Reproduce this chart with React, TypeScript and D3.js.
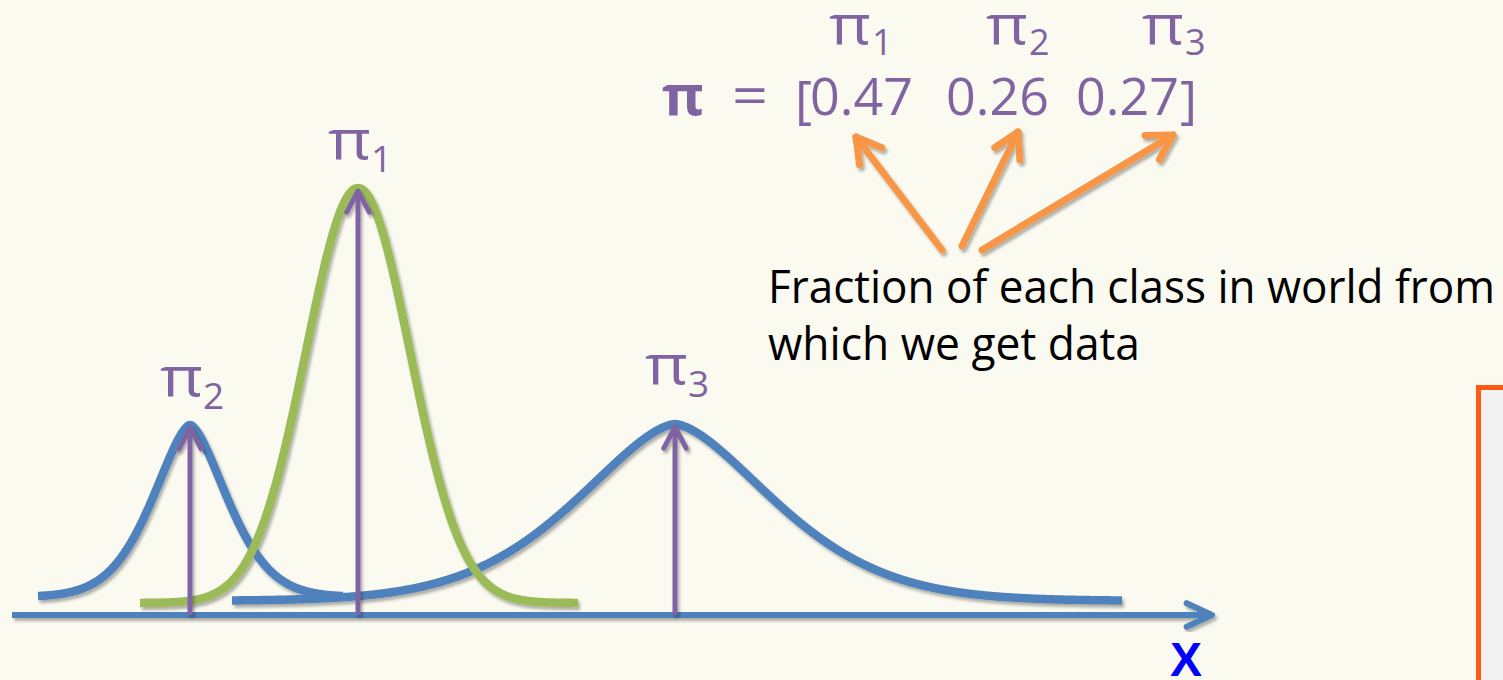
import React from "react";
import * as d3 from "d3";

// Mixture of three classes along one feature axis
const classIndex = ["1", "2", "3"];
const mixingWeights = [0.47, 0.26, 0.27];

// Component curves, in class order (1, 2, 3)
const curveCenters = [3.46, 1.78, 6.63];
const curveSpreads = [0.52, 0.35, 0.92];
const curveShapes = [2, 1.6, 1.6];
const curvePeaks = [0.993, 0.442, 0.444];
const curveFloors = [0.028, 0.042, 0.033];
const curveStarts = [1.28, 0.26, 2.2];
const curveEnds = [5.66, 3.31, 11.1];

const axisDomain = [0, 12];
const axisLabel = "X";
const caption = ["Fraction of each class in world from", "which we get data"];

const W = 1503;
const H = 680;
const BG = "#fafaf0";
const BLUE = "#4f81bd";
const GREEN = "#9bbb59";
const PURPLE = "#8064a2";
const ORANGE = "#f79646";
const curveColors = [GREEN, BLUE, BLUE];
const FONT = "'Open Sans', 'Noto Sans', sans-serif";

const x = d3.scaleLinear().domain(axisDomain).range([12, 1212]);
const y = d3.scaleLinear().domain([0, 1]).range([615, 185]);

function profile(i: number, v: number) {
  const z = Math.abs(v - curveCenters[i]) / curveSpreads[i];
  return (
    curveFloors[i] +
    (curvePeaks[i] - curveFloors[i]) * Math.exp(-0.5 * Math.pow(z, curveShapes[i]))
  );
}

const line = d3
  .line<[number, number]>()
  .x((d) => x(d[0]))
  .y((d) => y(d[1]))
  .curve(d3.curveMonotoneX);

function curvePath(i: number) {
  const pts: [number, number][] = [];
  const step = 0.01;
  for (let v = curveStarts[i]; v <= curveEnds[i] + 1e-9; v += step) {
    pts.push([v, profile(i, v)]);
  }
  pts.push([curveEnds[i], profile(i, curveEnds[i])]);
  return line(pts) as string;
}

// Chevron arrowhead at (tx, ty) for a shaft coming from (fx, fy)
function head(tx: number, ty: number, fx: number, fy: number, len: number, spreadDeg: number) {
  const a = Math.atan2(fy - ty, fx - tx);
  const s = (spreadDeg * Math.PI) / 180;
  const p1 = [tx + len * Math.cos(a + s), ty + len * Math.sin(a + s)];
  const p2 = [tx + len * Math.cos(a - s), ty + len * Math.sin(a - s)];
  return `M${p1[0]},${p1[1]}L${tx},${ty}L${p2[0]},${p2[1]}`;
}

// Layout of the weight vector row and the curve labels
const numberX = [810, 946, 1076];
const topLabelX = [829, 986, 1142];
const labelLift = [29, 29, 40];
const captionTails = [
  [942, 250],
  [962, 246],
  [982, 250],
];
const numberTips = [
  [856, 137],
  [1018, 132],
  [1173, 135],
];

export default function App() {
  const axisY = y(0);
  const axisEnd = x(axisDomain[1]);
  return (
    <div style={{ position: "fixed", left: 0, top: 0, width: W, height: H }}>
      <svg width={W} height={H} style={{ display: "block" }}>
        <defs>
          <filter id="soft" x="-10%" y="-10%" width="120%" height="130%">
            <feDropShadow dx="2" dy="3" stdDeviation="1.8" floodColor="#000" floodOpacity="0.3" />
          </filter>
        </defs>
        <rect x={0} y={0} width={W} height={H} fill={BG} />

        {/* side panel */}
        <rect x={1478.5} y={387.5} width={120} height={400} fill="#f2f2f2" stroke="#fe5a12" strokeWidth={5} />

        {/* feature axis */}
        <g filter="url(#soft)" stroke={BLUE} strokeWidth={6} fill="none" strokeLinecap="round" strokeLinejoin="round">
          <line x1={x(axisDomain[0])} x2={axisEnd - 2} y1={axisY} y2={axisY} strokeLinecap="butt" />
          <path d={head(axisEnd, axisY, axisEnd - 50, axisY, 28, 25)} />
        </g>
        <text x={1170} y={676} fill="#0000ff" fontFamily="'Liberation Sans', Arial, sans-serif" fontWeight="bold" fontSize={48}>
          {axisLabel}
        </text>

        {/* component curves */}
        <g filter="url(#soft)" fill="none" strokeWidth={8.5} strokeLinecap="butt" strokeLinejoin="round">
          {[1, 2, 0].map((i) => (
            <path key={i} d={curvePath(i)} stroke={curveColors[i]} />
          ))}
        </g>

        {/* weight arrows and labels */}
        <g filter="url(#soft)" stroke={PURPLE} strokeWidth={5} fill="none" strokeLinecap="round" strokeLinejoin="round">
          {curveCenters.map((c, i) => {
            const px = x(c);
            const top = y(curvePeaks[i]) + 3;
            return (
              <g key={i}>
                <line x1={px} x2={px} y1={axisY} y2={top + 2} strokeLinecap="butt" />
                <path d={head(px, top, px, axisY, 24, 28)} />
              </g>
            );
          })}
        </g>
        {curveCenters.map((c, i) => {
          const px = x(c);
          const base = y(curvePeaks[i]) - labelLift[i];
          return (
            <g key={i} fill={PURPLE} fontFamily={FONT}>
              <text x={px - 30} y={base} fontSize={55} textLength={43} lengthAdjust="spacingAndGlyphs">
                π
              </text>
              <text x={px + 13} y={base + 13} fontSize={37}>
                {classIndex[i]}
              </text>
            </g>
          );
        })}

        {/* weight vector */}
        <g fill={PURPLE} fontFamily={FONT}>
          <text x={662} y={115} fontSize={56} fontWeight="bold" textLength={42} lengthAdjust="spacingAndGlyphs">
            π
          </text>
          <text x={732} y={115} fontSize={54} textLength={36} lengthAdjust="spacingAndGlyphs">=</text>
          <text x={795} y={118} fontSize={52}>[</text>
          {mixingWeights.map((w, i) => (
            <text key={i} x={numberX[i]} y={115} fontSize={52}>
              {w.toFixed(2)}
            </text>
          ))}
          <text x={1180} y={118} fontSize={52}>]</text>
          {classIndex.map((c, i) => (
            <g key={c}>
              <text x={topLabelX[i]} y={44} fontSize={55} textLength={42} lengthAdjust="spacingAndGlyphs">
                π
              </text>
              <text x={topLabelX[i] + 43} y={55} fontSize={36}>
                {c}
              </text>
            </g>
          ))}
        </g>

        {/* pointers from the caption to the weights */}
        <g filter="url(#soft)" stroke={ORANGE} strokeWidth={7} fill="none" strokeLinecap="round" strokeLinejoin="round">
          {numberTips.map((t, i) => {
            const [fx, fy] = captionTails[i];
            return (
              <g key={i}>
                <line x1={fx} y1={fy} x2={t[0]} y2={t[1]} />
                <path d={head(t[0], t[1], fx, fy, 28, 30)} />
              </g>
            );
          })}
        </g>

        {/* caption */}
        <g fill="#000" fontFamily={FONT} fontSize={46}>
          <text x={768} y={303} textLength={727} lengthAdjust="spacingAndGlyphs">
            {caption[0]}
          </text>
          <text x={768} y={360} textLength={372} lengthAdjust="spacingAndGlyphs">
            {caption[1]}
          </text>
        </g>
      </svg>
    </div>
  );
}
